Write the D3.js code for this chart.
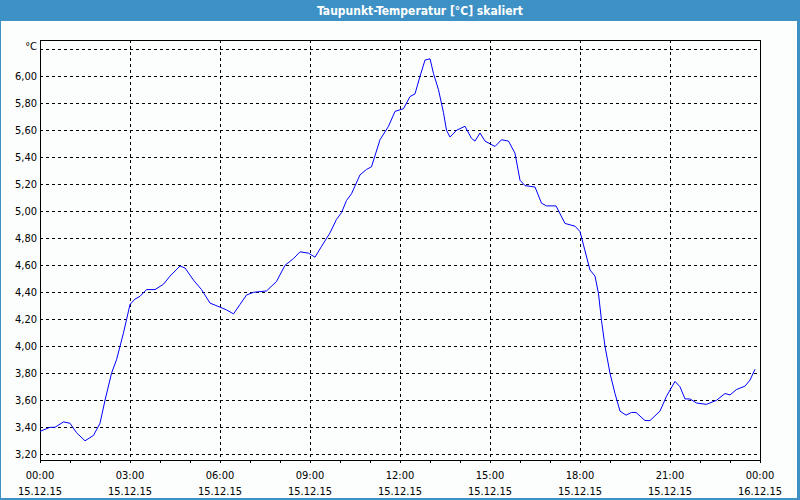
<!DOCTYPE html>
<html>
<head>
<meta charset="utf-8">
<script src="https://cdn.jsdelivr.net/npm/d3@7"></script>
<style>
  html, body { margin: 0; padding: 0; background: #fcfefe; }
  svg { display: block; }
  text { font-family: "DejaVu Sans Condensed", "DejaVu Sans", sans-serif; }
</style>
</head>
<body>
<svg id="chart" width="800" height="500"></svg>
<script>
// ---- data ----
const title = "Taupunkt-Temperatur [°C] skaliert";
const unitLabel = "°C";
// minutes after 15.12.15 00:00
const minutes = [0, 20, 30, 47, 60, 73, 90, 107, 120, 130, 143, 153, 167, 180, 190, 200, 213, 230, 247, 260,
  280, 290, 307, 323, 340, 360, 373, 387, 400, 413, 427, 453, 473, 490, 507, 520, 537, 550, 563, 580,
  593, 603, 613, 623, 640, 653, 663, 680, 697, 710, 727, 740, 750, 760, 770, 780, 787, 797, 807, 813,
  820, 833, 850, 863, 870, 880, 890, 910, 923, 937, 950, 960, 970, 990, 1003, 1013, 1032, 1050, 1070, 1080,
  1087, 1100, 1110, 1117, 1123, 1130, 1140, 1150, 1160, 1172, 1183, 1192, 1210, 1220, 1240, 1253, 1270, 1280, 1290, 1300,
  1313, 1333, 1353, 1370, 1380, 1393, 1410, 1420, 1430];
const values = [3.37, 3.40, 3.40, 3.44, 3.43, 3.36, 3.30, 3.34, 3.43, 3.60, 3.80, 3.90, 4.10, 4.31, 4.35, 4.37, 4.42, 4.42, 4.46, 4.52,
  4.595, 4.58, 4.49, 4.42, 4.32, 4.29, 4.27, 4.24, 4.31, 4.38, 4.40, 4.41, 4.48, 4.60, 4.65, 4.70, 4.69, 4.66, 4.74, 4.84,
  4.94, 4.99, 5.08, 5.13, 5.27, 5.31, 5.33, 5.53, 5.63, 5.74, 5.76, 5.85, 5.87, 6.00, 6.12, 6.13, 6.02, 5.90, 5.73, 5.60,
  5.55, 5.60, 5.63, 5.54, 5.52, 5.58, 5.52, 5.48, 5.53, 5.52, 5.43, 5.23, 5.19, 5.18, 5.06, 5.04, 5.04, 4.91, 4.89, 4.85,
  4.75, 4.565, 4.52, 4.39, 4.19, 4.00, 3.80, 3.65, 3.52, 3.49, 3.51, 3.51, 3.45, 3.45, 3.52, 3.63, 3.74, 3.70, 3.61, 3.61,
  3.58, 3.57, 3.60, 3.65, 3.64, 3.68, 3.705, 3.75, 3.83];
const yTicks = [3.2, 3.4, 3.6, 3.8, 4.0, 4.2, 4.4, 4.6, 4.8, 5.0, 5.2, 5.4, 5.6, 5.8, 6.0, 6.2];
const xTickMinutes = [0, 180, 360, 540, 720, 900, 1080, 1260, 1440];
const xTickTimes = ["00:00", "03:00", "06:00", "09:00", "12:00", "15:00", "18:00", "21:00", "00:00"];
const xTickDates = ["15.12.15", "15.12.15", "15.12.15", "15.12.15", "15.12.15", "15.12.15", "15.12.15", "15.12.15", "16.12.15"];
const hourMinutes = d3.range(0, 1441, 60);

// ---- layout ----
const W = 800, H = 500;
const pLeft = 40, pRight = 760, pTop = 40, pBottom = 460;
const svg = d3.select("#chart");

svg.append("rect").attr("x", 0).attr("y", 0).attr("width", W).attr("height", H).attr("fill", "#fcfefe");
svg.append("rect").attr("x", 0).attr("y", 0).attr("width", W).attr("height", 21).attr("fill", "#3d91c4");
svg.append("rect").attr("x", 0).attr("y", 0).attr("width", 1).attr("height", H).attr("fill", "#3d91c4");
svg.append("rect").attr("x", 797).attr("y", 0).attr("width", 3).attr("height", H).attr("fill", "#3d91c4");
svg.append("rect").attr("x", 0).attr("y", 498).attr("width", W).attr("height", 2).attr("fill", "#3d91c4");

svg.append("text")
  .attr("x", 420).attr("y", 15)
  .attr("text-anchor", "middle")
  .attr("fill", "#ffffff")
  .attr("font-weight", "bold")
  .attr("font-size", 12)
  .text(title);

const x = d3.scaleLinear().domain([0, 1440]).range([pLeft, pRight]);
const y = d3.scaleLinear().domain([3.2, 6.2]).range([454.3, 454.3 - 3.0 * 135]);

svg.append("g").selectAll("line").data(yTicks).join("line")
  .attr("x1", pLeft).attr("x2", pRight)
  .attr("y1", d => Math.round(y(d)) + 0.5).attr("y2", d => Math.round(y(d)) + 0.5)
  .attr("stroke", "#000").attr("stroke-width", 1)
  .attr("stroke-dasharray", "3,3")
  .attr("shape-rendering", "crispEdges");

svg.append("g").selectAll("line").data(xTickMinutes.slice(1, -1)).join("line")
  .attr("x1", d => Math.round(x(d)) + 0.5).attr("x2", d => Math.round(x(d)) + 0.5)
  .attr("y1", pTop).attr("y2", pBottom)
  .attr("stroke", "#000").attr("stroke-width", 1)
  .attr("stroke-dasharray", "3,3")
  .attr("shape-rendering", "crispEdges");

const xAxis = d3.axisBottom(x).tickValues(hourMinutes).tickSize(3).tickFormat("");
const gx = svg.append("g").attr("transform", `translate(0,${pBottom})`).call(xAxis);
gx.select(".domain").remove();
gx.selectAll("line").attr("stroke", "#000").attr("shape-rendering", "crispEdges");

svg.append("rect")
  .attr("x", pLeft + 0.5).attr("y", pTop + 0.5)
  .attr("width", pRight - pLeft).attr("height", pBottom - pTop)
  .attr("fill", "none").attr("stroke", "#000").attr("stroke-width", 1)
  .attr("shape-rendering", "crispEdges");

const fmt = d => d.toFixed(2).replace(".", ",");
svg.append("g").selectAll("text").data(yTicks.slice(0, -1)).join("text")
  .attr("x", 37).attr("y", d => y(d) + 4)
  .attr("text-anchor", "end")
  .attr("font-size", 11).attr("fill", "#000")
  .text(fmt);
svg.append("text").attr("x", 37).attr("y", 50)
  .attr("text-anchor", "end").attr("font-size", 11).attr("fill", "#000")
  .text(unitLabel);

const xl = svg.append("g").selectAll("g").data(xTickMinutes).join("g")
  .attr("transform", d => `translate(${x(d)},0)`);
xl.append("text").attr("y", 479).attr("text-anchor", "middle").attr("font-size", 11)
  .text((d, i) => xTickTimes[i]);
xl.append("text").attr("y", 495).attr("text-anchor", "middle").attr("font-size", 11)
  .text((d, i) => xTickDates[i]);

const line = d3.line().x((d, i) => x(minutes[i])).y(d => y(d));
svg.append("path").datum(values)
  .attr("d", line)
  .attr("fill", "none")
  .attr("stroke", "#0000ff")
  .attr("stroke-width", 1);
</script>
</body>
</html>
